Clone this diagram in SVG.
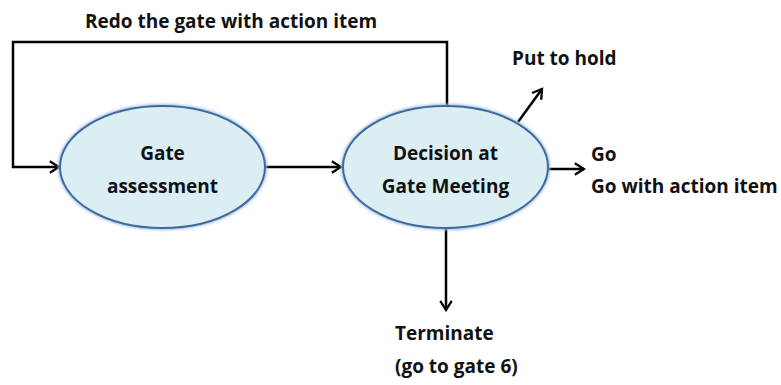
<svg xmlns="http://www.w3.org/2000/svg" width="781" height="385" viewBox="0 0 781 385">
<style>
text{font-family:"Open Sans","Liberation Sans",sans-serif;font-weight:bold;font-size:19px;fill:#111}
.node ellipse{fill:#dbeef4;stroke:#41699c;stroke-width:2}
.node ellipse.halo{fill:none;stroke:#9cc0e8;stroke-width:4}
.conn path{fill:none;stroke:#000;stroke-width:2.5;marker-end:url(#ah)}
</style>
<defs>
<marker id="ah" viewBox="0 0 12 12" refX="10" refY="6" markerWidth="5.5" markerHeight="5.5" markerUnits="strokeWidth" orient="auto">
<path d="M2,1 L10,6 L2,11" fill="none" stroke="#000" stroke-width="2"/>
</marker>
<filter id="glow" x="-10%" y="-10%" width="120%" height="120%">
<feGaussianBlur stdDeviation="1.5"/>
</filter>
</defs>
<rect width="781" height="385" fill="#fff"/>
<g class="conn">
<path d="M447,106 V42 H13 V167 H59"/>
<path d="M265,167 H341"/>
<path d="M548,169 H584"/>
<path d="M518,122 L542,89"/>
<path d="M446,229 V310"/>
</g>
<g id="gate-assessment" class="node">
<ellipse class="halo" cx="162.5" cy="167" rx="102.5" ry="61" filter="url(#glow)"/>
<ellipse cx="162.5" cy="167" rx="102.5" ry="61"/>
<text x="162.5" y="160" text-anchor="middle">Gate</text>
<text x="162.5" y="193" text-anchor="middle">assessment</text>
</g>
<g id="decision" class="node">
<ellipse class="halo" cx="445.5" cy="167" rx="102.5" ry="61" filter="url(#glow)"/>
<ellipse cx="445.5" cy="167" rx="102.5" ry="61"/>
<text x="445.5" y="160" text-anchor="middle">Decision at</text>
<text x="445.5" y="193" text-anchor="middle">Gate Meeting</text>
</g>
<g id="labels">
<text x="85" y="28">Redo the gate with action item</text>
<text x="512" y="65">Put to hold</text>
<text x="591" y="161">Go</text>
<text x="591" y="193">Go with action item</text>
<text x="395" y="340">Terminate</text>
<text x="395" y="373">(go to gate 6)</text>
</g>
</svg>
